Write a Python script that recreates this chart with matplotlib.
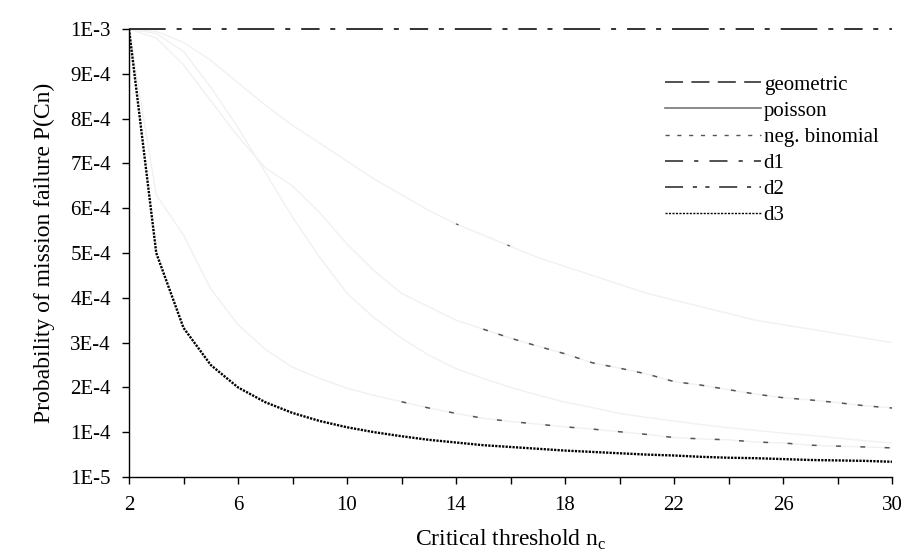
import matplotlib
matplotlib.use("Agg")
import matplotlib.pyplot as plt
from matplotlib.lines import Line2D
import numpy as np

plt.rcParams['font.family'] = ['Liberation Serif', 'DejaVu Serif']
plt.rcParams['lines.scale_dashes'] = False

# ---- data ----
n_c = list(range(2, 31))
geometric = [10.0, 9.95, 9.7, 9.3, 8.8, 8.3, 7.85, 7.45, 7.05, 6.65, 6.3, 5.95, 5.65, 5.4, 5.15,
             4.9, 4.7, 4.5, 4.3, 4.1, 3.95, 3.8, 3.65, 3.5, 3.4, 3.3, 3.2, 3.1, 3.0]
poisson = [10.0, 9.9, 9.5, 8.7, 7.8, 6.8, 5.8, 4.9, 4.1, 3.55, 3.1, 2.72, 2.42, 2.2, 2.0,
           1.83, 1.67, 1.55, 1.42, 1.33, 1.25, 1.17, 1.1, 1.04, 0.98, 0.93, 0.87, 0.81, 0.76]
neg_binomial = [10.0, 6.3, 5.4, 4.2, 3.4, 2.85, 2.45, 2.2, 1.98, 1.82, 1.68, 1.54, 1.42, 1.31, 1.24,
                1.18, 1.12, 1.07, 1.01, 0.95, 0.88, 0.85, 0.83, 0.78, 0.76, 0.71, 0.69, 0.67, 0.65]
d1 = [10.0] * 29
d2 = [10.0, 9.8, 9.2, 8.4, 7.6, 6.9, 6.5, 5.9, 5.2, 4.6, 4.1, 3.8, 3.5, 3.3, 3.1,
      2.92, 2.75, 2.55, 2.43, 2.3, 2.13, 2.05, 1.95, 1.85, 1.77, 1.72, 1.66, 1.59, 1.54]
d3 = [10.0, 5.0, 3.33, 2.5, 2.0, 1.67, 1.43, 1.25, 1.11, 1.0, 0.91, 0.83, 0.77, 0.71, 0.67,
      0.63, 0.59, 0.56, 0.53, 0.5, 0.48, 0.45, 0.43, 0.42, 0.4, 0.38, 0.37, 0.36, 0.34]
scale = 1e-4

y_ticks = [i * 1e-4 for i in range(11)]
y_tick_labels = ["1E-5", "1E-4", "2E-4", "3E-4", "4E-4", "5E-4", "6E-4", "7E-4", "8E-4", "9E-4", "1E-3"]
x_ticks_major = list(range(2, 31, 2))
x_tick_labels = ["2", "", "6", "", "10", "", "14", "", "18", "", "22", "", "26", "", "30"]

series_names = ["geometric", "poisson", "neg. binomial", "d1", "d2", "d3"]

fig = plt.figure(figsize=(9.11, 5.58), dpi=100)
ax = fig.add_axes([129 / 911, 1 - 477 / 558, 763 / 911, 448 / 558])

x = np.array(n_c)
faint = '#f1f1f1'

def arr(v):
    return np.array(v) * scale

# faint bodies of the curves
for s in (geometric, poisson, neg_binomial, d2):
    ax.plot(x, arr(s), color=faint, lw=1.0, zorder=1)

# sparse visible dash fragments on the tails
m = x >= 11.5
ax.plot(x[m], arr(neg_binomial)[m], color='#555555', lw=1.1, dashes=(3.5, 14), zorder=2)
m = x >= 15
ax.plot(x[m], arr(d2)[m], color='#555555', lw=1.1, dashes=(3.5, 8.0), zorder=2)
m = (x >= 14) & (x <= 17.5)
ax.plot(x[m], arr(geometric)[m], color='#666666', lw=1.0, dashes=(2, 38), zorder=2)

# d1 flat line at the top
ax.plot(x, arr(d1), color='#222222', lw=1.3, dashes=(26.4, 7.9, 3.6, 7.9, 13.2, 7.7, 3.6, 7.9),
        zorder=3, clip_on=False)
# d3 dotted black
ax.plot(x, arr(d3), color='black', lw=1.7, dashes=(1.6, 0.9), zorder=4)

ax.set_xlim(2, 30)
ax.set_ylim(0, 1e-3)
ax.set_yticks(y_ticks)
ax.set_yticklabels(y_tick_labels)
ax.set_xticks(x_ticks_major)
ax.set_xticklabels(x_tick_labels)
ax.tick_params(axis='both', direction='out', length=5, width=1, labelsize=15, colors='black')
ax.tick_params(axis='x', pad=9)
ax.tick_params(axis='y', pad=8)
for side in ('top', 'right'):
    ax.spines[side].set_visible(False)
for side in ('left', 'bottom'):
    ax.spines[side].set_linewidth(1.0)
    ax.spines[side].set_color('black')

ax.set_ylabel("Probability of mission failure P(Cn)", fontsize=17, labelpad=11)
ax.set_xlabel(r"Critical threshold n$_\mathregular{c}$", fontsize=17, labelpad=9)

handles = [
    Line2D([], [], color='#333333', lw=1.2, dashes=(13, 6)),
    Line2D([], [], color='#777777', lw=1.2),
    Line2D([], [], color='#555555', lw=1.0, dashes=(3, 5.5)),
    Line2D([], [], color='#333333', lw=1.2, dashes=(13, 8, 3, 8)),
    Line2D([], [], color='#333333', lw=1.2, dashes=(13, 7, 3, 6, 3, 7)),
    Line2D([], [], color='black', lw=1.0, dashes=(1.5, 1.0)),
]
ax.legend(handles, series_names, loc='upper left', bbox_to_anchor=(0.703, 0.897),
          frameon=False, fontsize=15, handlelength=4.6, handletextpad=0.12,
          labelspacing=0.31, borderpad=0, borderaxespad=0)

fig.savefig("out.png", dpi=100)
